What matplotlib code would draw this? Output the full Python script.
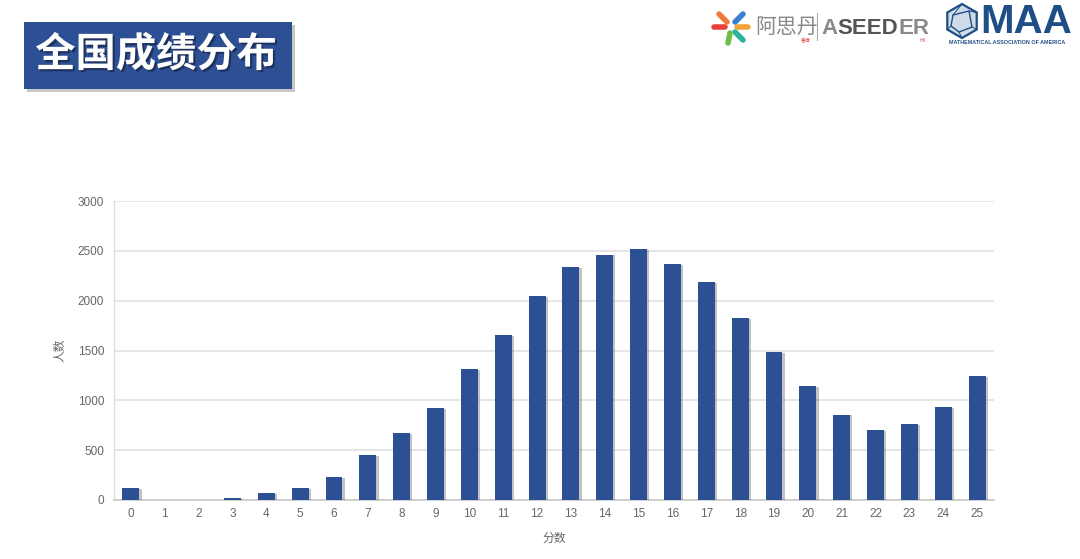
import matplotlib
matplotlib.use("Agg")
import math
import matplotlib.pyplot as plt
import matplotlib.patheffects as pe
from matplotlib.patches import Rectangle, Polygon
from matplotlib.lines import Line2D

plt.rcParams['font.family'] = ['Liberation Sans', 'Noto Sans CJK SC', 'DejaVu Sans']

# ---- data ----
scores = list(range(26))
counts = [117, 0, 0, 20, 67, 123, 230, 450, 675, 925, 1317, 1657, 2047, 2340,
          2463, 2517, 2363, 2190, 1827, 1483, 1143, 857, 700, 760, 933, 1243]
yticks = [0, 500, 1000, 1500, 2000, 2500, 3000]
title = "全国成绩分布"
xlabel = "分数"
ylabel = "人数"

W, H = 1080, 559
BLUE = "#2d4f93"

fig = plt.figure(figsize=(W / 100, H / 100), dpi=100)
fig.patch.set_facecolor("white")

def fx(x):
    return x / W

def fy(y):
    return 1 - y / H

# ---- axes ----
ax = fig.add_axes([fx(114), fy(500), fx(994) - fx(114), fy(201) - fy(500)])
bars = ax.bar(scores, counts, width=0.5, color=BLUE, zorder=3)
for b in bars:
    b.set_path_effects([pe.SimplePatchShadow(offset=(1.6, -0.6), shadow_rgbFace="#555555", alpha=0.35),
                        pe.Normal()])
ax.set_xlim(-0.5, 25.5)
ax.set_ylim(0, 3000)
ax.set_yticks(yticks)
ax.set_xticks(scores)
ax.set_xticklabels([str(s) for s in scores])
ax.grid(axis="y", color="#e4e4e4", linewidth=1.3, zorder=0)
ax.set_axisbelow(True)
for s in ["top", "right"]:
    ax.spines[s].set_visible(False)
ax.spines["left"].set_color("#dddddd")
ax.spines["left"].set_linewidth(1.0)
ax.spines["bottom"].set_color("#c8c8c8")
ax.spines["bottom"].set_linewidth(1.2)
ax.tick_params(axis="both", length=0, labelsize=8.5, labelcolor="#666666")
ax.tick_params(axis="y", pad=7)
ax.tick_params(axis="x", pad=6)
ax.set_xlabel(xlabel, fontsize=8.5, color="#666666", labelpad=8, family=["Noto Sans CJK SC", "DejaVu Sans"])
ax.set_ylabel(ylabel, fontsize=8.5, color="#666666", labelpad=8, family=["Noto Sans CJK SC", "DejaVu Sans"])

# ---- title box ----
shadow_box = Rectangle((fx(27), fy(92)), fx(292) - fx(24), fy(22) - fy(89),
                       transform=fig.transFigure, facecolor="#bbbbbb", edgecolor="none", alpha=0.8)
fig.add_artist(shadow_box)
box = Rectangle((fx(24), fy(89)), fx(292) - fx(24), fy(22) - fy(89),
                transform=fig.transFigure, facecolor=BLUE, edgecolor="none")
fig.add_artist(box)
fig.text(fx(156), fy(55), title, color="white", fontsize=29, fontweight="bold",
         family=["Noto Sans CJK SC"], ha="center", va="center",
         path_effects=[pe.withSimplePatchShadow(offset=(1.5, -1.5), shadow_rgbFace="#1a2a50", alpha=0.8)])

# ---- ASEEDER logo ----
cx, cy = 731, 27
strokes = [((-17, 0), (-6, 0), "#e8403a"),
           ((-12, -13), (-4, -5), "#f07a3a"),
           ((12, -13), (4, -5), "#3a7fd0"),
           ((17, 0), (6, 0), "#f4a23a"),
           ((12, 13), (4, 5), "#2bb3a0"),
           ((-3, 16), (-1, 6), "#6cc04a"),
           ]
for (x0, y0), (x1, y1), c in strokes:
    fig.add_artist(Line2D([fx(cx + x0), fx(cx + x1)], [fy(cy + y0), fy(cy + y1)],
                          transform=fig.transFigure, color=c, linewidth=4, solid_capstyle="round"))
fig.text(fx(755), fy(27), "阿思丹", color="#888888", fontsize=15,
         family=["Noto Sans CJK SC"], ha="left", va="center")
fig.text(fx(806), fy(41), "香港", color="#e05050", fontsize=3.5,
         family=["Noto Sans CJK SC"], ha="center", va="center")
fig.add_artist(Line2D([fx(817), fx(817)], [fy(13), fy(40)], transform=fig.transFigure,
                      color="#aaaaaa", linewidth=0.8))

renderer = fig.canvas.get_renderer()
xpos = 821
for part, col in [("A", "#8a8a8a"), ("SEED", "#555555"), ("ER", "#8a8a8a")]:
    t = fig.text(fx(xpos), fy(28), part, color=col, fontsize=16, fontweight="bold",
                 ha="left", va="center")
    bb = t.get_window_extent(renderer=renderer)
    xpos += bb.width + 0.5
fig.text(fx(923), fy(41), "HK", color="#e05050", fontsize=3.5, ha="center", va="center")

# ---- MAA logo ----
MAA_BLUE = "#1f4e86"
hx, hy, r = 962, 21, 17
hexpts = [(fx(hx + r * math.cos(math.radians(a))), fy(hy + r * math.sin(math.radians(a))))
          for a in range(-90, 270, 60)]
fig.add_artist(Polygon(hexpts, closed=True, transform=fig.transFigure, facecolor="#cfdbe9",
                       edgecolor=MAA_BLUE, linewidth=1.6))
inner = [(hx - 9, hy - 6), (hx + 7, hy - 10), (hx + 10, hy + 6), (hx - 3, hy + 11), (hx - 11, hy + 5)]
fig.add_artist(Polygon([(fx(a), fy(b)) for a, b in inner], closed=True, transform=fig.transFigure,
                       facecolor="none", edgecolor=MAA_BLUE, linewidth=1.0))
for i, (a, b) in enumerate(inner):
    p = hexpts[i % 6]
    fig.add_artist(Line2D([fx(a), p[0]], [fy(b), p[1]], transform=fig.transFigure,
                          color=MAA_BLUE, linewidth=0.7))
fig.text(fx(1026), fy(22), "MAA", color=MAA_BLUE, fontsize=29, fontweight="bold",
         ha="center", va="center")
fig.text(fx(1007), fy(43), "MATHEMATICAL ASSOCIATION OF AMERICA", color=MAA_BLUE,
         fontsize=3.9, fontweight="bold", ha="center", va="center")

fig.savefig("out.png", dpi=100)
